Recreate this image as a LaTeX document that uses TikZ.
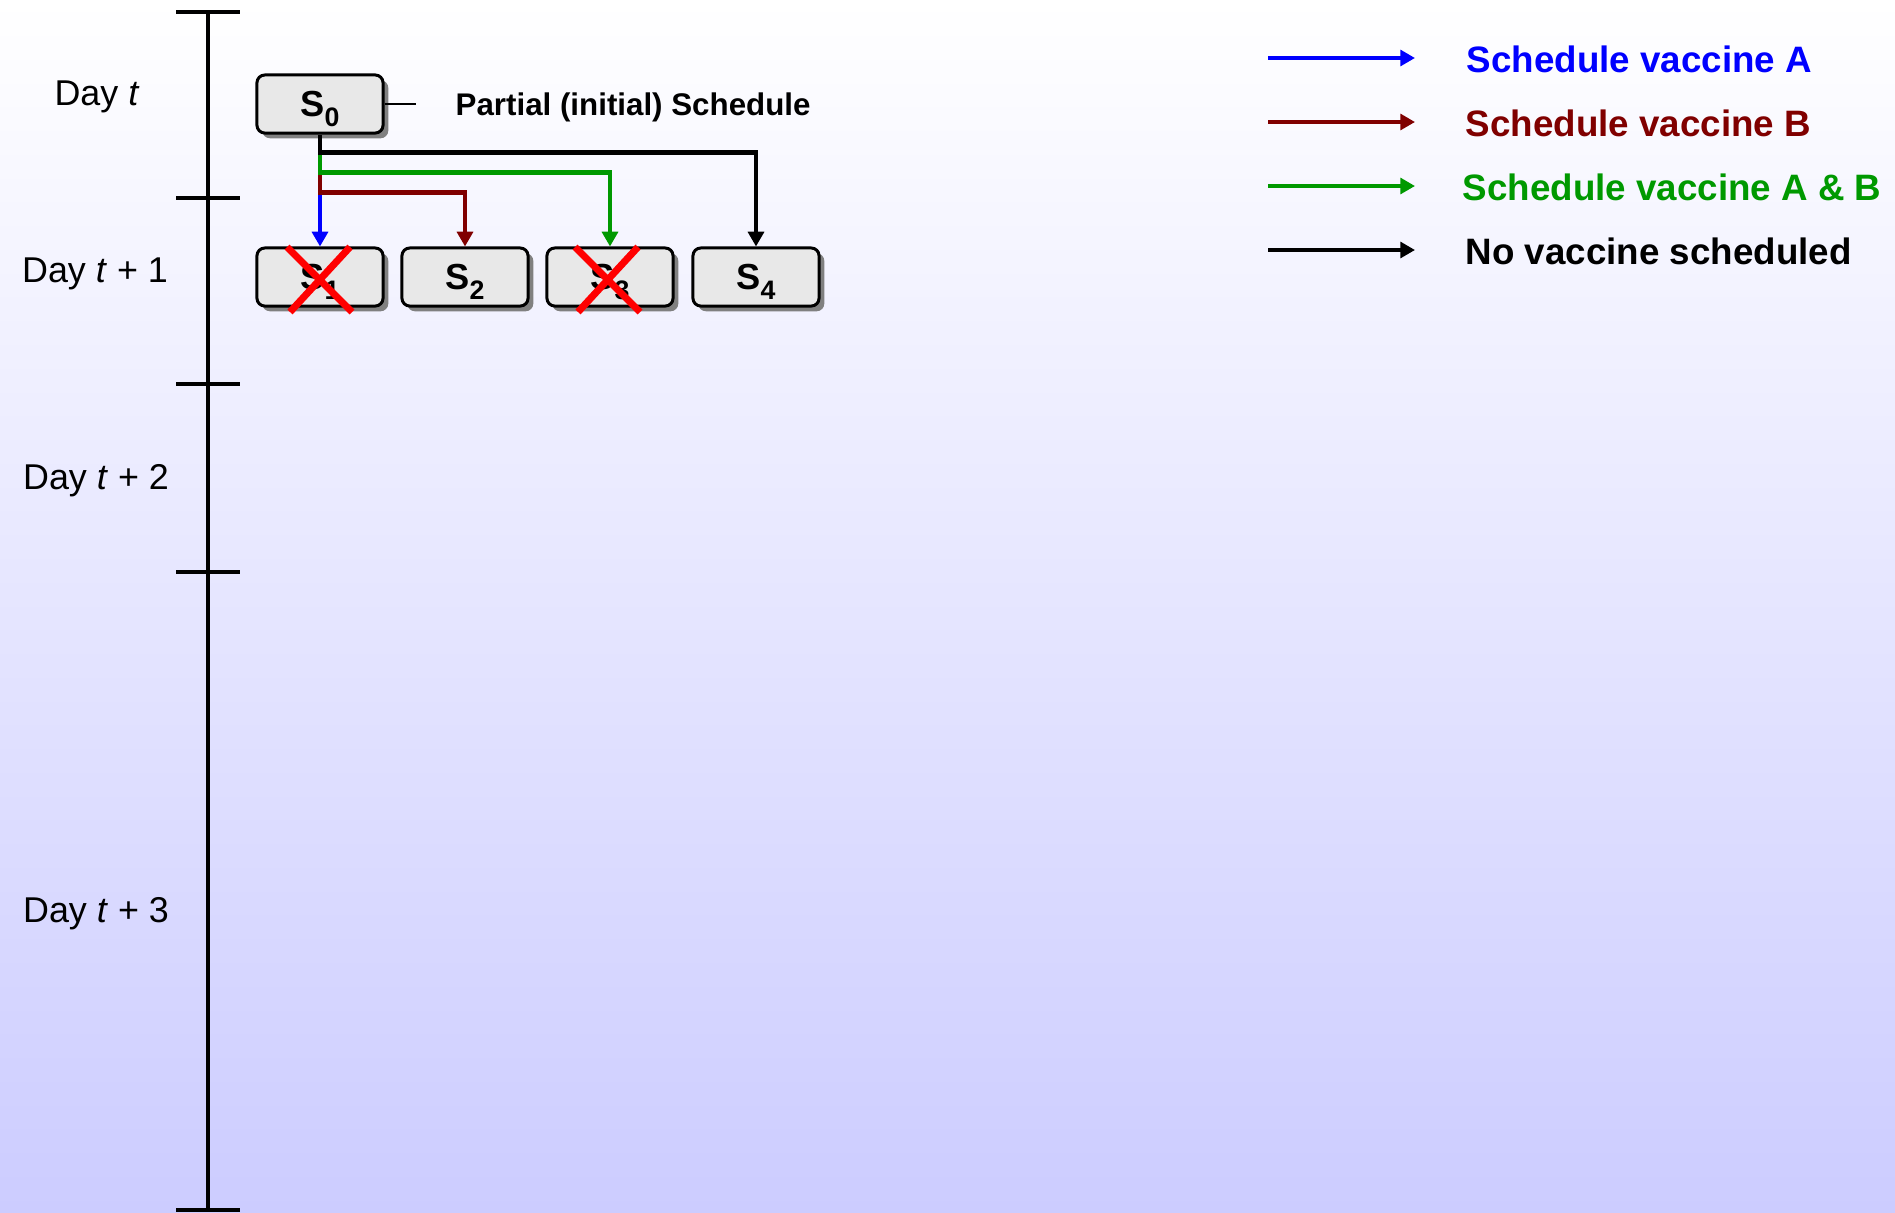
\documentclass[tikz,border=0pt]{standalone}
\usepackage{fontspec}
\setmainfont{Liberation Sans}
\usetikzlibrary{arrows.meta,shadows,calc}
\definecolor{dred}{RGB}{128,0,0}
\definecolor{dgreen}{RGB}{0,153,0}
\definecolor{vblue}{RGB}{0,0,255}
\definecolor{bgbot}{RGB}{204,204,255}
\definecolor{boxfill}{RGB}{232,232,232}
\newcommand{\slab}[1]{{\fontsize{10.3}{12}\selectfont\bfseries S\raisebox{-2.8pt}[0pt][0pt]{\fontsize{7.6}{9}\selectfont #1}}}
\newcommand{\legtext}[1]{{\fontsize{10.45}{12}\selectfont\bfseries #1}}
\begin{document}
\begin{tikzpicture}[x=0.01cm,y=-0.01cm,
  schedbox/.style={draw=black, line width=0.85pt, fill=boxfill, rounded corners=2.2pt,
    minimum width=1.26cm, minimum height=0.58cm, inner sep=0pt,
    drop shadow={shadow xshift=1.5pt, shadow yshift=-1.5pt, fill=black!50, opacity=1}},
  daylab/.style={inner sep=0pt, font=\fontsize{10.2}{12}\selectfont},
  legtxt/.style={inner sep=0pt, anchor=west},
  conn/.style={line width=1.35pt, -{Triangle[width=4.5pt,length=4.2pt]}},
  legarrow/.style={line width=1.4pt, -{Triangle[width=4.5pt,length=4.2pt]}},
  axisline/.style={line width=1.1pt},
  crossline/.style={draw=red, line width=2pt}]
\fill[top color=white, bottom color=bgbot] (0,0) rectangle (1895,1212);
\useasboundingbox (0,0) rectangle (1895,1212);

% time axis
\coordinate (axtop) at (208,12);
\coordinate (axbot) at (208,1210);
\draw[axisline] (axtop) -- (axbot);
\foreach \yy/\nm in {12/t0,198/t1,384/t2,572/t3,1210/t4}{
  \coordinate (\nm l) at (176,\yy);
  \coordinate (\nm r) at (240,\yy);
  \draw[axisline] (\nm l) -- (\nm r);
}

% day labels
\node[daylab] (d0) at (97,97) {Day \textit{t}};
\node[daylab] (d1) at (95,274) {Day \textit{t} + 1};
\node[daylab] (d2) at (96,481) {Day \textit{t} + 2};
\node[daylab] (d3) at (96,914) {Day \textit{t} + 3};

% schedule nodes
\node[schedbox] (s0) at (320,104) {\slab{0}};
\node[schedbox] (s1) at (320,277) {\slab{1}};
\node[schedbox] (s2) at (465,277) {\slab{2}};
\node[schedbox] (s3) at (610,277) {\slab{3}};
\node[schedbox] (s4) at (756,277) {\slab{4}};

\node[legtxt] (partial) at (455,107) {{\fontsize{8.9}{10}\selectfont\bfseries Partial (initial) Schedule}};
\coordinate (pend) at (416,104);
\draw[line width=0.65pt] (s0.east) -- (pend);

% connectors
\draw[conn, vblue] (s0.south) -- (s1.north);
\draw[conn, dred] (s0.south) -- ++(0,58) -| (s2.north);
\draw[conn, dgreen] (s0.south) -- ++(0,38) -| (s3.north);
\draw[conn, black] (s0.south) -- ++(0,18) -| (s4.north);

% crosses
\draw[crossline] ($(s1)+(-33,-30)$) -- ($(s1)+(32,35)$);
\draw[crossline] ($(s1)+(30,-30)$) -- ($(s1)+(-30,35)$);
\draw[crossline] ($(s3)+(-35,-30)$) -- ($(s3)+(30,35)$);
\draw[crossline] ($(s3)+(28,-30)$) -- ($(s3)+(-32,35)$);

% legend
\foreach \yy/\nm/\col in {58/la/vblue,122/lb/dred,186/lc/dgreen,250/ld/black}{
  \coordinate (\nm s) at (1268,\yy);
  \coordinate (\nm e) at (1415,\yy);
  \draw[legarrow, \col] (\nm s) -- (\nm e);
}
\node[legtxt, text=vblue] (lta) at (1466,59) {\legtext{Schedule vaccine A}};
\node[legtxt, text=dred] (ltb) at (1465,123) {\legtext{Schedule vaccine B}};
\node[legtxt, text=dgreen] (ltc) at (1462,187) {\legtext{Schedule vaccine A \& B}};
\node[legtxt, text=black] (ltd) at (1465,251) {\legtext{No vaccine scheduled}};
\end{tikzpicture}
\end{document}
